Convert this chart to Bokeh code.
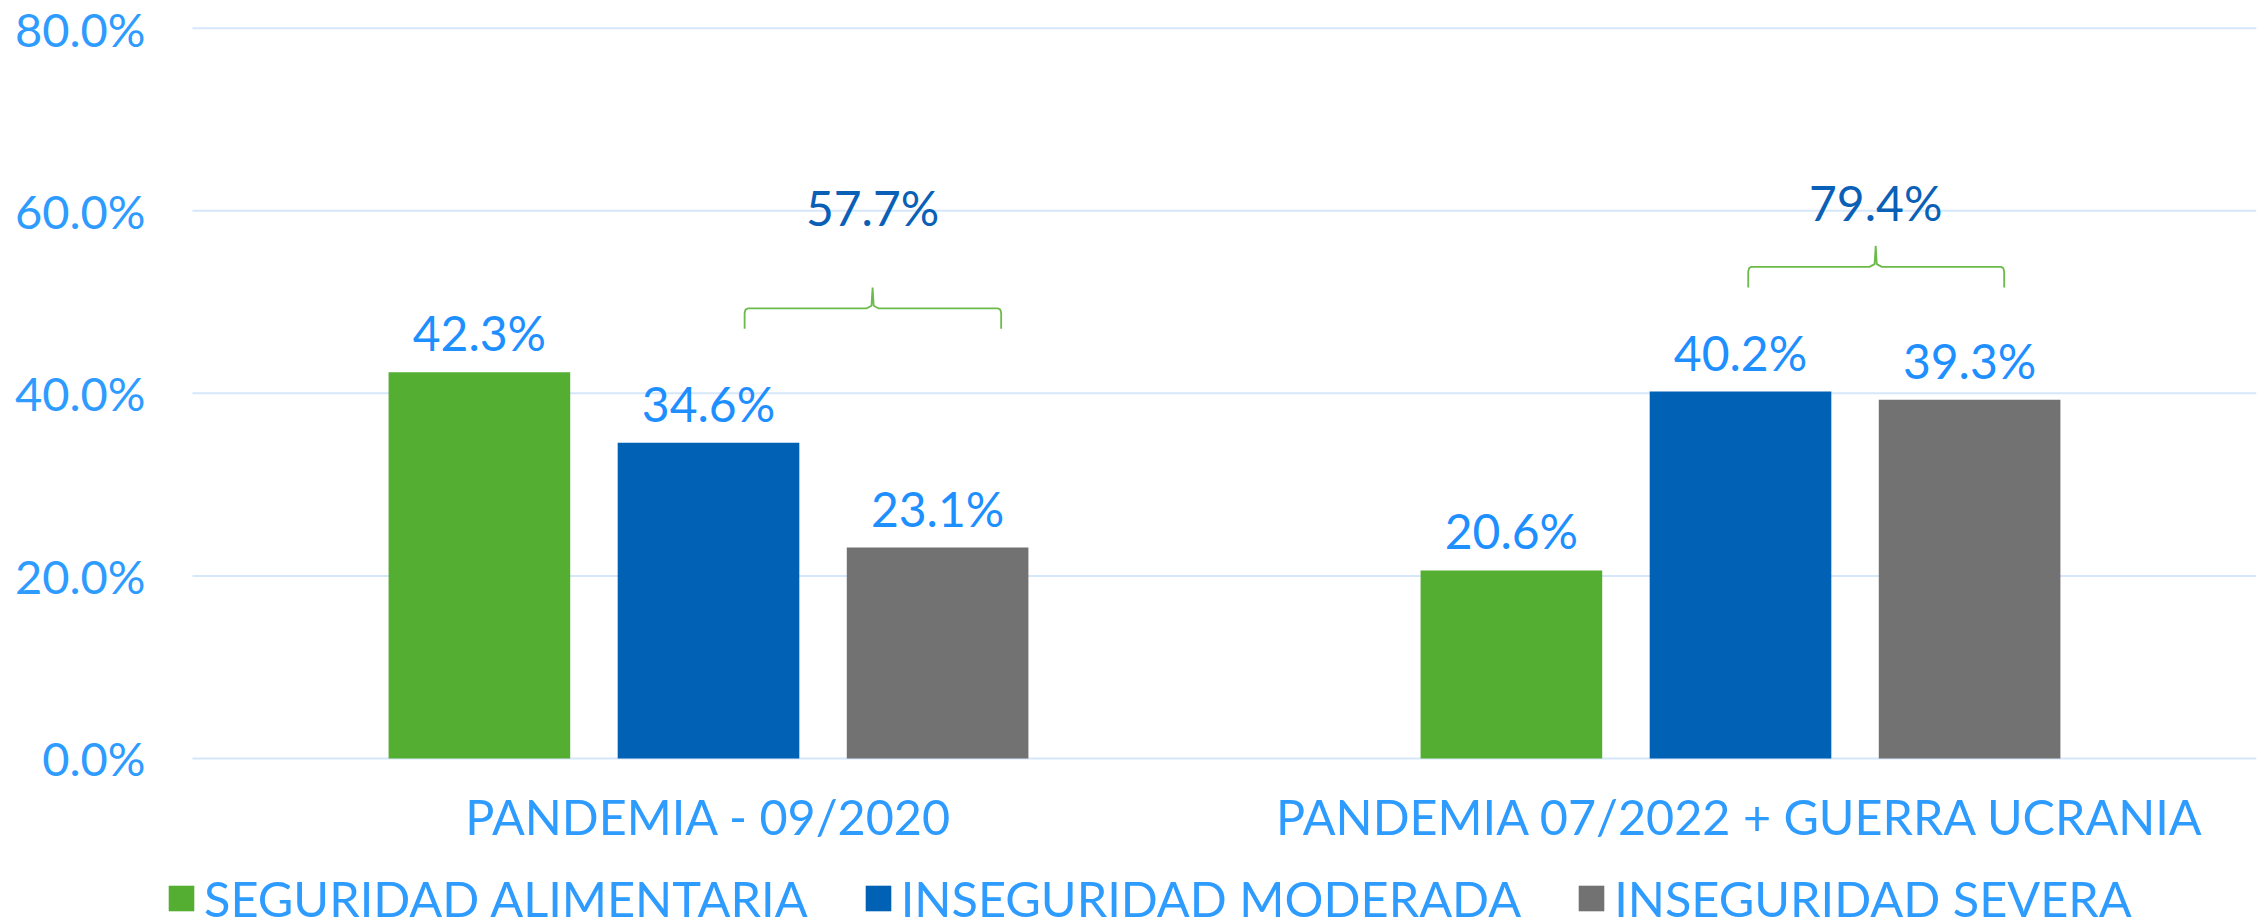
from bokeh.plotting import figure
from bokeh.models import (ColumnDataSource, Range1d, FixedTicker,
                          PrintfTickFormatter, LabelSet, Legend, LegendItem)
from bokeh.core.properties import value
from bokeh.embed import file_html
from bokeh.resources import INLINE

# ---------------- data ----------------
periods = ["PANDEMIA - 09/2020", "PANDEMIA 07/2022 + GUERRA UCRANIA"]
series_names = ["SEGURIDAD ALIMENTARIA", "INSEGURIDAD MODERADA", "INSEGURIDAD SEVERA"]
seguridad = [42.3, 20.6]
moderada = [34.6, 40.2]
severa = [23.1, 39.3]
inseguridad_total = [57.7, 79.4]
y_ticks = [0, 20, 40, 60, 80]

# ---------------- styles / layout ----------------
GREEN = "#54AE32"
BLUE = "#0061B5"
GRAY = "#727272"
TXT = "#2E9BFF"
VAL = "#1E8FFF"
DARK = "#0A60B6"
BRACE = "#6CBB4A"
GRID = "#D6E7FB"
FONT = "Lato"
offsets = [-0.222, 0.0, 0.222]
bar_w = 0.176
X_MIN, X_MAX = -0.0436, 2.0     # categories occupy [0, 2]; a little room on the left for the legend
Y_MIN, Y_MAX = -17.97, 80.3     # room below zero holds category labels and legend

# brace geometry (relative to group centre, y in chart units)
brace_left = [0.035, 0.0075]
brace_right = [0.2836, 0.2555]
brace_mid = [0.159, 0.131]
brace_end_y = [47.07, 51.6]
brace_h_y = [49.3, 53.86]
brace_tip_y = [51.6, 56.16]
brace_label_y = [58.35, 58.9]

def fmt(v):
    return f"{v:.1f}%"

centres = [i + 0.5 for i in range(len(periods))]

src = ColumnDataSource(dict(
    seg=seguridad, mod=moderada, sev=severa,
    x_seg=[c + offsets[0] for c in centres],
    x_mod=[c + offsets[1] for c in centres],
    x_sev=[c + offsets[2] for c in centres],
    seg_l=[fmt(v) for v in seguridad],
    mod_l=[fmt(v) for v in moderada],
    sev_l=[fmt(v) for v in severa],
))

p = figure(x_range=Range1d(X_MIN, X_MAX), y_range=Range1d(Y_MIN, Y_MAX),
           width=2259, height=922, output_backend="svg", toolbar_location=None,
           min_border_left=147, min_border_right=3, min_border_top=25,
           min_border_bottom=0)
p.outline_line_color = None
p.background_fill_color = "white"
p.border_fill_color = "white"
p.xgrid.grid_line_color = None
p.ygrid.grid_line_color = None

# horizontal grid lines across the category span
p.segment(x0=[0] * len(y_ticks), x1=[len(periods)] * len(y_ticks), y0=y_ticks, y1=y_ticks,
          line_color=GRID, line_width=2, level="underlay")

renderers = []
for col, color in zip(["seg", "mod", "sev"], [GREEN, BLUE, GRAY]):
    r = p.vbar(x="x_" + col, top=col, width=bar_w, source=src,
               fill_color=color, line_color=None)
    renderers.append(r)
    lbl = LabelSet(x="x_" + col, y=col, text=col + "_l",
                   source=src, text_align="center", text_baseline="alphabetic",
                   y_offset=21, text_font=value(FONT), text_font_size=value("48px"),
                   text_color=VAL)
    p.add_layout(lbl)

# braces
for i, c in enumerate(centres):
    L = c + brace_left[i]
    R = c + brace_right[i]
    M = c + brace_mid[i]
    yb, yh, yt = brace_end_y[i], brace_h_y[i], brace_tip_y[i]
    rx, ry = 0.003, 0.5
    xs = [L, L, L + rx * 0.3, L + rx, M - 2 * rx, M - rx * 0.35, M, M + rx * 0.35,
          M + 2 * rx, R - rx, R - rx * 0.3, R, R]
    ys = [yb, yh - ry, yh - ry * 0.25, yh, yh, yh + ry * 0.6, yt, yh + ry * 0.6,
          yh, yh, yh - ry * 0.25, yh - ry, yb]
    p.line(xs, ys, line_color=BRACE, line_width=1.8)

brace_src = ColumnDataSource(dict(
    x=[c + m for c, m in zip(centres, brace_mid)],
    y=brace_label_y,
    t=[fmt(v) for v in inseguridad_total],
))
p.add_layout(LabelSet(x="x", y="y", text="t", source=brace_src, text_align="center",
                      text_baseline="alphabetic", text_font=value(FONT),
                      text_font_size=value("48px"), text_color=DARK))

# axes
p.yaxis.ticker = FixedTicker(ticks=y_ticks)
p.yaxis.formatter = PrintfTickFormatter(format="%.1f%%")
p.yaxis.axis_line_color = None
p.yaxis.major_tick_line_color = None
p.yaxis.minor_tick_line_color = None
p.yaxis.major_tick_out = 0
p.yaxis.minor_tick_out = 0
p.yaxis.major_label_standoff = 2
p.yaxis.major_label_text_font = FONT
p.yaxis.major_label_text_font_size = "47px"
p.yaxis.major_label_text_color = TXT

p.xaxis.ticker = FixedTicker(ticks=centres)
p.xaxis.major_label_overrides = {c: name for c, name in zip(centres, periods)}
p.xaxis.fixed_location = 0
p.xaxis.axis_line_color = None
p.xaxis.major_tick_line_color = None
p.xaxis.minor_tick_line_color = None
p.xaxis.major_tick_out = 0
p.xaxis.minor_tick_out = 0
p.xaxis.major_label_standoff = 29
p.xaxis.major_label_text_font = FONT
p.xaxis.major_label_text_font_size = "48.5px"
p.xaxis.major_label_text_color = TXT

legend = Legend(items=[LegendItem(label=n, renderers=[r]) for n, r in zip(series_names, renderers)],
                orientation="horizontal", location=(18, -5),
                glyph_width=32, glyph_height=32, label_standoff=7, spacing=54,
                padding=0, margin=0, border_line_color=None, background_fill_alpha=0,
                label_text_font=FONT, label_text_font_size="48.7px", label_text_color=TXT)
p.add_layout(legend, "center")

open("out.html", "w").write(file_html(p, INLINE))
